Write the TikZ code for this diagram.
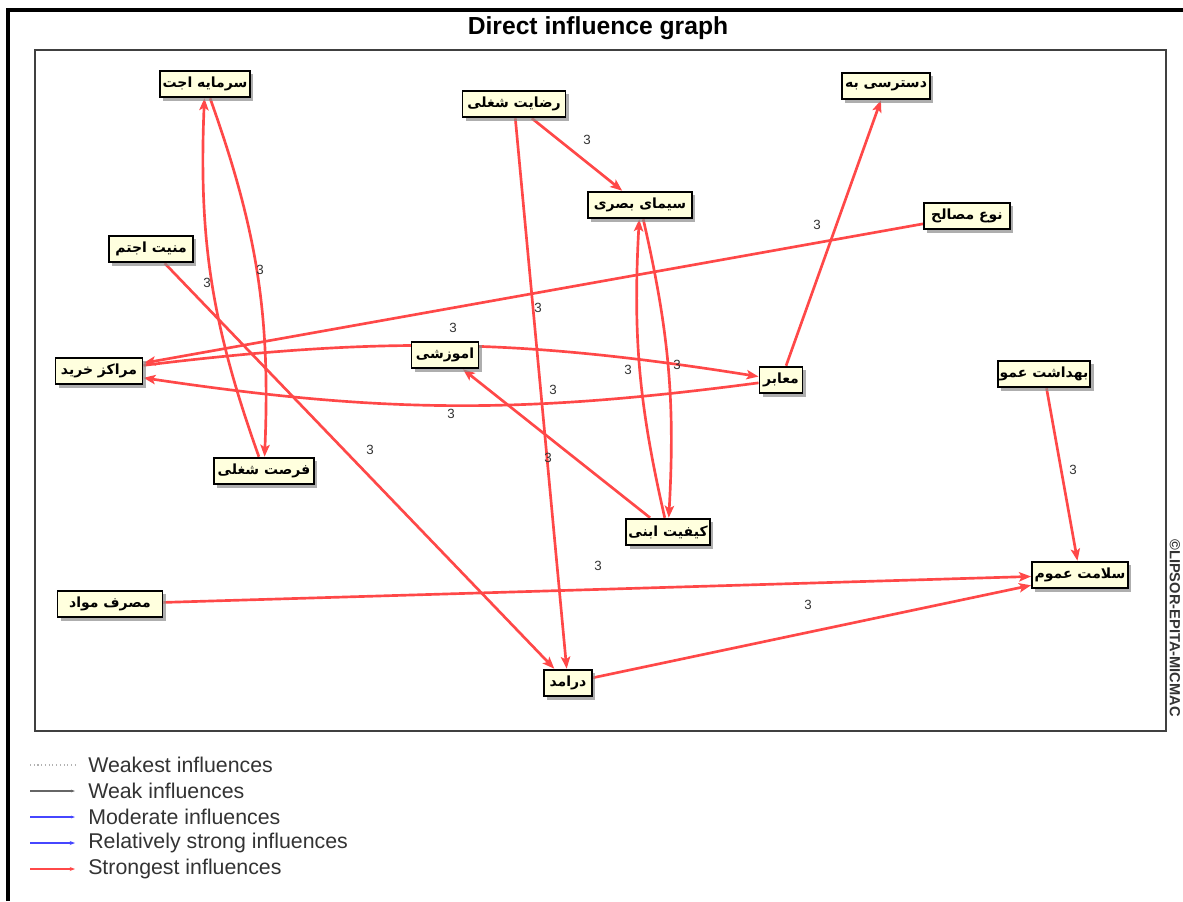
\documentclass[tikz,border=0pt]{standalone}
\usepackage{fontspec}
\setmainfont{Liberation Sans}
\newfontfamily\arabicfont[Script=Arabic]{DejaVu Sans}
\TeXXeTstate=1
\usetikzlibrary{arrows.meta,shadows,backgrounds}
\definecolor{boxfill}{RGB}{255,255,222}
\definecolor{edgered}{RGB}{255,72,72}
\definecolor{legblue}{RGB}{70,70,255}
\tikzset{
  factor/.style={draw=black, line width=1.4pt, fill=boxfill, inner sep=1.5pt,
    minimum height=20pt, font=\arabicfont\bfseries\fontsize{10.5}{12}\selectfont,
    drop shadow={shadow xshift=2.5pt, shadow yshift=-2.5pt, fill=black!45, opacity=0.7}},
  boxw/.style={minimum width=#1*0.75pt},
  infl/.style={draw=edgered, line width=2pt, -{Stealth[length=9pt, width=7pt, inset=2pt]}},
  val/.style={font=\fontsize{10}{11}\selectfont, text=black!80, inner sep=0.75pt},
  legtext/.style={anchor=west, font=\fontsize{16}{17}\selectfont, text=black!80, inner sep=0.75pt},
}
\begin{document}
\begin{tikzpicture}[x=0.75pt,y=0.75pt,yscale=-1,xscale=1]
\useasboundingbox (0,0) rectangle (1183,901);

%Outer frame
\draw [line width=3pt] (8,901) -- (8,10) -- (1183,10) ;
% Text Node
\node [font=\bfseries\fontsize{18.5}{20}\selectfont, inner sep=0.75pt] (title) at (598,28) {Direct influence graph};
%Inner frame
\draw [line width=1.5pt, draw=black!75] (35,50) rectangle (1166,731) ;
% Text Node
\node [rotate=-90, font=\bfseries\fontsize{11}{12}\selectfont, text=black!80, inner sep=0.75pt] (stamp) at (1175,628) {©LIPSOR-EPITA-MICMAC};

%Factors
\node [factor, boxw=90] (sarmaye) at (205,84) {\beginR سرمایه اجت\endR};
\node [factor, boxw=84] (amniat) at (151,249) {\beginR منیت اجتم\endR};
\node [factor, boxw=103] (rezayat) at (514,104) {\beginR رضایت شغلی\endR};
\node [factor, boxw=104] (sima) at (640,205) {\beginR سیمای بصری\endR};
\node [factor, boxw=88] (dastresi) at (886,86) {\beginR دسترسی به\endR};
\node [factor, boxw=86] (noe) at (967,216) {\beginR نوع مصالح\endR};
\node [factor, boxw=87] (marakez) at (99,371) {\beginR مراکز خرید\endR};
\node [factor, boxw=67] (amuzeshi) at (445,355) {\beginR اموزشی\endR};
\node [factor, boxw=43] (maaber) at (781,380) {\beginR معابر\endR};
\node [factor, boxw=91] (behdasht) at (1044,374) {\beginR بهداشت عمو\endR};
\node [factor, boxw=100] (forsat) at (264,471) {\beginR فرصت شغلی\endR};
\node [factor, boxw=80] (keyfiat) at (668,532) {\beginR کیفیت ابنی\endR};
\node [factor, boxw=105] (masraf) at (110,604) {\beginR مصرف مواد\endR};
\node [factor, boxw=96] (salamat) at (1080,575) {\beginR سلامت عموم\endR};
\node [factor, boxw=48] (daramad) at (568,683) {\beginR درامد\endR};

%Influences, under the boxes (yscale=-1, so bend right shows as bend left)
\begin{scope}[on background layer]
\draw [infl] (sarmaye) to [bend right=11] (forsat) ;
\draw [infl] (forsat) to [bend right=11] (sarmaye) ;
\draw [infl] (sima) to [bend right=8] (keyfiat) ;
\draw [infl] (keyfiat) to [bend right=8] (sima) ;
\draw [infl] (marakez) to [bend right=8] (maaber) ;
\draw [infl] (maaber) to [bend right=8] (marakez) ;
\draw [infl] (amniat) -- (daramad) ;
\draw [infl] (rezayat) -- (sima) ;
\draw [infl] (rezayat) -- (daramad) ;
\draw [infl] (noe) -- (marakez) ;
\draw [infl] (maaber) -- (dastresi) ;
\draw [infl] (keyfiat) -- (amuzeshi) ;
\draw [infl] (behdasht) -- (salamat) ;
\draw [infl] (masraf) -- (salamat) ;
\draw [infl] (daramad) -- (salamat) ;
\end{scope}

%Values
\node [val] (v1) at (587,140) {3};
\node [val] (v2) at (817,225) {3};
\node [val] (v3) at (207,283) {3};
\node [val] (v4) at (260,270) {3};
\node [val] (v5) at (538,308) {3};
\node [val] (v6) at (453,328) {3};
\node [val] (v7) at (628,370) {3};
\node [val] (v8) at (677,365) {3};
\node [val] (v9) at (553,390) {3};
\node [val] (v10) at (451,414) {3};
\node [val] (v11) at (548,458) {3};
\node [val] (v12) at (370,450) {3};
\node [val] (v13) at (1073,470) {3};
\node [val] (v14) at (598,566) {3};
\node [val] (v15) at (808,605) {3};

%Legend
\draw [draw=black!30, line width=0.8pt, dotted] (30,765) -- (75,765) ;
\draw [draw=black!60, line width=0.9pt, -{Stealth[length=3pt, width=2pt]}] (30,791) -- (75,791) ;
\draw [draw=legblue, line width=0.9pt, -{Stealth[length=3pt, width=2pt]}] (30,817) -- (75,817) ;
\draw [draw=legblue, line width=2pt, -{Stealth[length=4pt, width=3pt]}] (30,843) -- (75,843) ;
\draw [draw=edgered, line width=2pt, -{Stealth[length=4pt, width=3pt]}] (30,869) -- (75,869) ;
% Text Node
\node [legtext] (l1) at (87,765) {Weakest influences};
\node [legtext] (l2) at (87,791) {Weak influences};
\node [legtext] (l3) at (87,817) {Moderate influences};
\node [legtext] (l4) at (87,843) {Relatively strong influences};
\node [legtext] (l5) at (87,869) {Strongest influences};

\end{tikzpicture}
\end{document}
